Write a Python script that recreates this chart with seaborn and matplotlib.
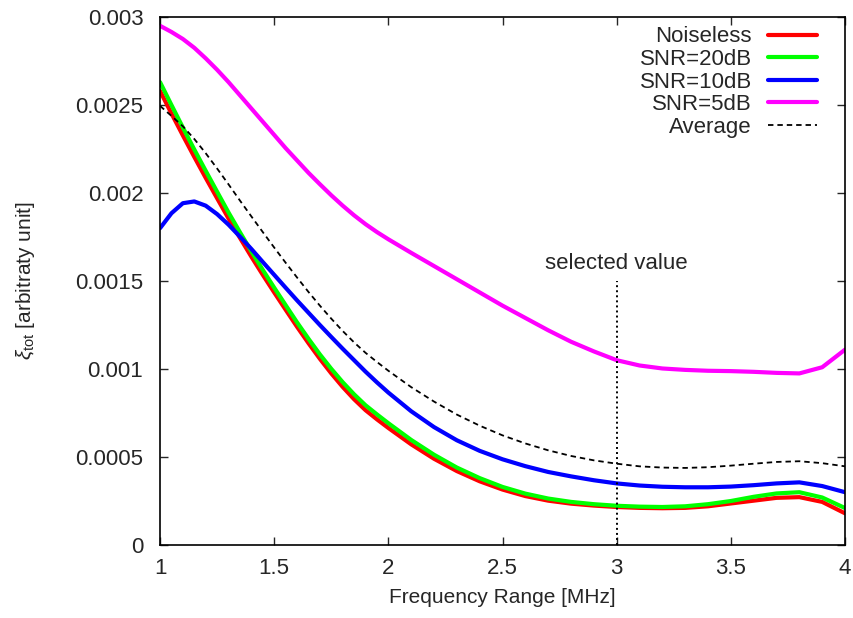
import numpy as np
import pandas as pd
import matplotlib
matplotlib.use("Agg")
import matplotlib.pyplot as plt
import seaborn as sns

freq = [1.00, 1.05, 1.10, 1.15, 1.20, 1.25, 1.30, 1.35, 1.40, 1.45, 1.50,
        1.55, 1.60, 1.65, 1.70, 1.75, 1.80, 1.85, 1.90, 1.95, 2.00,
        2.1, 2.2, 2.3, 2.4, 2.5, 2.6, 2.7, 2.8, 2.9, 3.0,
        3.1, 3.2, 3.3, 3.4, 3.5, 3.6, 3.7, 3.8, 3.9, 4.0]

# values in units of 1e-3
noiseless = [2.580, 2.452, 2.327, 2.205, 2.086, 1.970, 1.855, 1.745, 1.638, 1.535, 1.435,
             1.337, 1.240, 1.147, 1.058, 0.975, 0.898, 0.828, 0.766, 0.714, 0.665,
             0.572, 0.490, 0.420, 0.362, 0.315, 0.278, 0.252, 0.235, 0.224, 0.216,
             0.211, 0.209, 0.211, 0.220, 0.236, 0.252, 0.268, 0.272, 0.245, 0.180]
snr20 = [2.630, 2.500, 2.372, 2.247, 2.126, 2.007, 1.889, 1.777, 1.668, 1.563, 1.462,
         1.363, 1.265, 1.172, 1.083, 1.001, 0.925, 0.856, 0.794, 0.742, 0.692,
         0.597, 0.513, 0.440, 0.380, 0.330, 0.292, 0.264, 0.245, 0.232, 0.223,
         0.218, 0.216, 0.220, 0.232, 0.250, 0.274, 0.293, 0.300, 0.270, 0.210]
snr10 = [1.800, 1.885, 1.942, 1.952, 1.928, 1.880, 1.820, 1.752, 1.682, 1.608, 1.535,
         1.462, 1.390, 1.320, 1.250, 1.182, 1.115, 1.050, 0.985, 0.924, 0.866,
         0.760, 0.670, 0.595, 0.535, 0.487, 0.448, 0.415, 0.390, 0.368, 0.350,
         0.338, 0.331, 0.328, 0.328, 0.332, 0.340, 0.350, 0.356, 0.335, 0.300]
snr5 = [2.950, 2.915, 2.875, 2.825, 2.765, 2.700, 2.630, 2.555, 2.480, 2.405, 2.330,
        2.255, 2.185, 2.115, 2.050, 1.987, 1.928, 1.873, 1.823, 1.778, 1.737,
        1.660, 1.585, 1.510, 1.435, 1.360, 1.290, 1.220, 1.155, 1.100, 1.050,
        1.020, 1.003, 0.995, 0.990, 0.988, 0.984, 0.978, 0.975, 1.010, 1.110]
average = [2.495, 2.438, 2.379, 2.307, 2.226, 2.139, 2.049, 1.957, 1.867, 1.778, 1.690,
           1.604, 1.520, 1.438, 1.360, 1.286, 1.216, 1.151, 1.092, 1.040, 0.990,
           0.897, 0.815, 0.741, 0.678, 0.623, 0.577, 0.538, 0.506, 0.481, 0.462,
           0.447, 0.440, 0.438, 0.442, 0.451, 0.462, 0.472, 0.476, 0.465, 0.447]

series_names = ["Noiseless", "SNR=20dB", "SNR=10dB", "SNR=5dB", "Average"]
series_vals = [noiseless, snr20, snr10, snr5, average]
scale = 1e-3

xticks = [1, 1.5, 2, 2.5, 3, 3.5, 4]
xticklabels = ["1", "1.5", "2", "2.5", "3", "3.5", "4"]
yticks = [0, 0.0005, 0.001, 0.0015, 0.002, 0.0025, 0.003]
yticklabels = ["0", "0.0005", "0.001", "0.0015", "0.002", "0.0025", "0.003"]

selected_x = 3.0
selected_top = 0.0015
selected_label_y = 0.0016

sns.set_theme(style="ticks")
plt.rcParams['font.family'] = ['Liberation Sans', 'DejaVu Sans']
plt.rcParams['mathtext.fontset'] = 'custom'
plt.rcParams['mathtext.rm'] = 'Liberation Sans'
plt.rcParams['mathtext.it'] = 'Liberation Sans:italic'

FS = 16

rows = []
for name, vals in zip(series_names, series_vals):
    for x, v in zip(freq, vals):
        rows.append({"freq": x, "xi": v * scale, "series": name})
df = pd.DataFrame(rows)

fig = plt.figure(figsize=(8.54, 6.18), dpi=100)
ax = fig.add_axes([0.1874, 0.1181, 0.8021, 0.8544])

colors = {"Noiseless": "#ff0000", "SNR=20dB": "#00ff00", "SNR=10dB": "#0000ff",
          "SNR=5dB": "#ff00ff", "Average": "#000000"}

for name in series_names:
    sub = df[df.series == name]
    if name == "Average":
        sns.lineplot(data=sub, x="freq", y="xi", ax=ax, color="black", lw=1.3,
                     linestyle=(0, (3.0, 2.2)), label=name, sort=True)
    else:
        sns.lineplot(data=sub, x="freq", y="xi", ax=ax, color=colors[name], lw=3.0,
                     label=name, sort=True, solid_joinstyle="round")

ax.plot([selected_x, selected_x], [0, selected_top], color="black", lw=1.4,
        linestyle=(0, (1, 1.6)))
ax.text(selected_x, selected_label_y, "selected value", ha="center", va="center",
        fontsize=FS)

ax.set_xlim(1, 4)
ax.set_ylim(0, 0.003)
ax.set_xticks(xticks)
ax.set_xticklabels(xticklabels, fontsize=FS)
ax.set_yticks(yticks)
ax.set_yticklabels(yticklabels, fontsize=FS)
ax.tick_params(direction="in", top=True, right=True, length=6, width=1)
ax.tick_params(axis="x", pad=9.5)
ax.tick_params(axis="y", pad=12)
for sp in ax.spines.values():
    sp.set_linewidth(1.2)
    sp.set_color("black")

ax.set_xlabel("Frequency Range [MHz]", fontsize=15, labelpad=6)
ax.set_ylabel(r"$\xi_{\mathrm{tot}}$ [arbitraty unit]", fontsize=15)
ax.yaxis.set_label_coords(-0.18, 0.5)

leg = ax.legend(loc="upper right", frameon=False, markerfirst=False, fontsize=FS,
                handlelength=2.2, handletextpad=0.72, labelspacing=0.07,
                borderpad=0, borderaxespad=0, bbox_to_anchor=(0.959, 0.982))

fig.savefig("out.png", dpi=100)
